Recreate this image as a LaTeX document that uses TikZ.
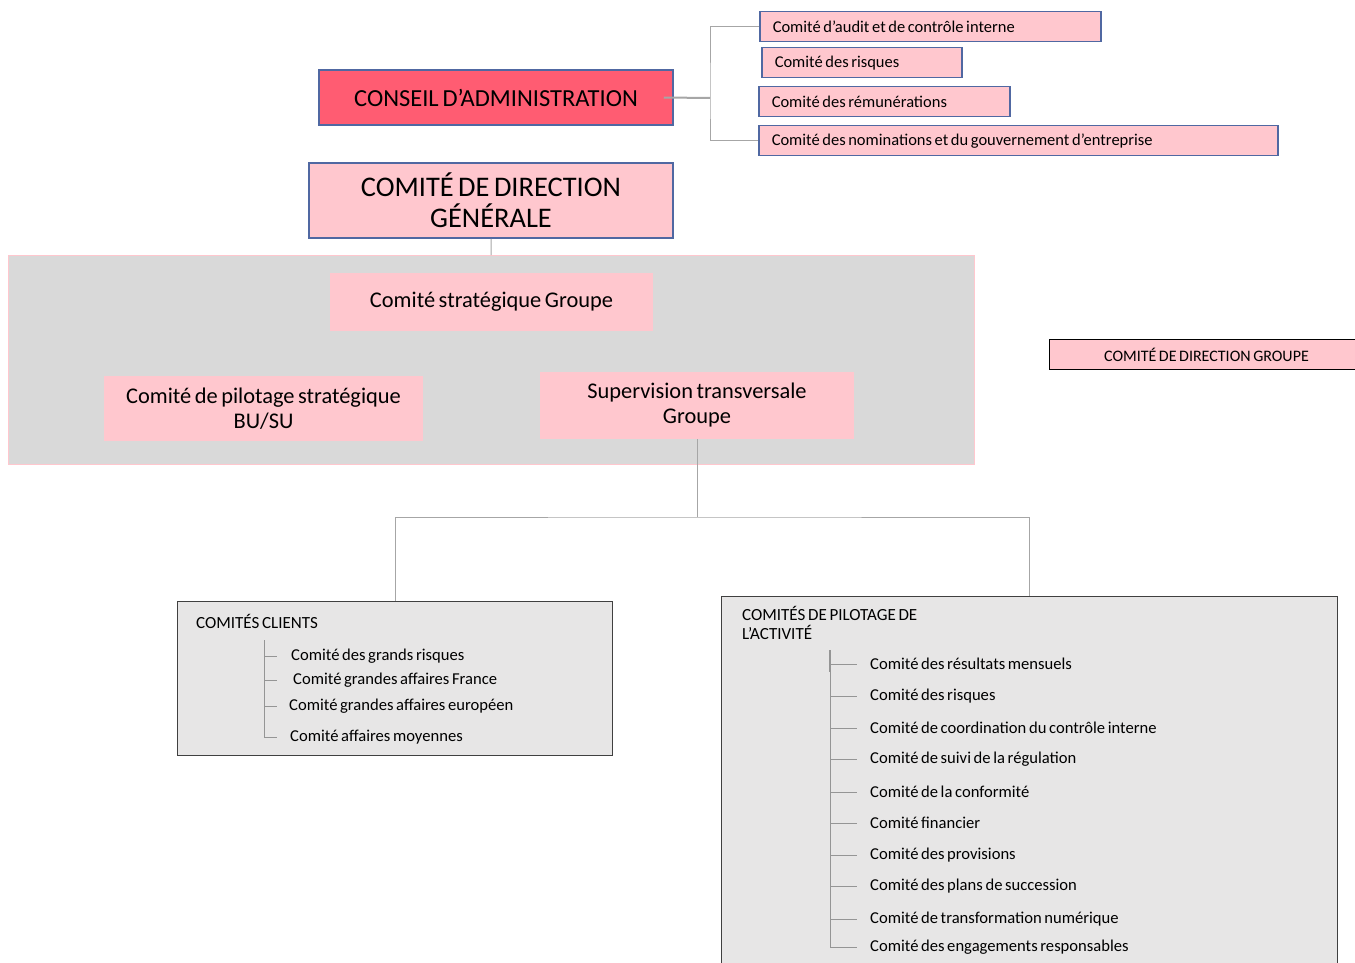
\documentclass[tikz,border=0pt]{standalone}
\usepackage{fontspec}
\setmainfont{Carlito}[WordSpace={0.7,0,0}]
\usetikzlibrary{positioning}
\definecolor{redbox}{RGB}{255,92,114}
\definecolor{pinkbox}{RGB}{255,199,206}
\definecolor{bluedge}{RGB}{80,104,162}
\definecolor{panelgray}{RGB}{217,217,217}
\definecolor{listgray}{RGB}{231,230,230}
\definecolor{linkgray}{RGB}{166,166,166}

\begin{document}
\begin{tikzpicture}[
  x=1pt, y=-1pt,
  box/.style={draw=bluedge, line width=1.5pt, fill=pinkbox, inner sep=0pt, align=center},
  board/.style={box, fill=redbox, minimum width=354pt, minimum height=55pt, font=\fontsize{24.5}{28}\selectfont},
  direction/.style={box, minimum width=364pt, minimum height=75pt, font=\fontsize{28.4}{31}\selectfont},
  sub/.style={box, anchor=north west, align=flush left, inner xsep=13pt, text width=#1, minimum height=30pt, font=\fontsize{16.5}{18}\selectfont},
  panel/.style={fill=panelgray, draw=pinkbox, anchor=north west, minimum width=966pt, minimum height=209pt, inner sep=0pt},
  inner/.style={fill=pinkbox, inner sep=0pt, align=center, font=\fontsize{22.4}{25}\selectfont},
  listbox/.style={fill=listgray, draw=black!75, line width=1pt, anchor=north west, inner sep=0pt},
  title/.style={anchor=north west, inner sep=0pt, align=left, font=\fontsize{17}{19}\selectfont},
  item/.style={anchor=west, inner sep=0pt, font=\fontsize{16.6}{18}\selectfont},
  link/.style={draw=linkgray, line width=1pt},
  trunk/.style={draw=linkgray!90!black, line width=1pt}
]
\useasboundingbox (0,0) rectangle (1355,963);

% conseil et comites specialises
\node[board] (ca) at (496,97.5) {CONSEIL D'ADMINISTRATION};
\node[sub=315pt] (audit) at (759,11) {Comité d'audit et de contrôle interne};
\node[sub=174pt] (risques) at (761,47) {Comité des risques};
\node[sub=225pt] (remun) at (758,86) {Comité des rémunérations};
\node[sub=493pt] (nomin) at (758,125) {Comité des nominations et du gouvernement d'entreprise};
\coordinate (fork) at (710,98);

\draw[link, line width=2pt] ([xshift=-10pt]ca.east) -- (fork);
\draw[link] (audit.west) -| (fork) |- (nomin.west);

% direction generale
\node[direction] (cdg) at (491,200.5) {COMITÉ DE DIRECTION\\GÉNÉRALE};
\node[panel] (panel) at (8,255) {};
\node[inner, minimum width=323pt, minimum height=58pt] (strat) at (491.5,302) {Comité stratégique Groupe};
\node[inner, minimum width=319pt, minimum height=65pt] (pilot) at (263.5,408.5) {Comité de pilotage stratégique\\BU/SU};
\node[inner, minimum width=314pt, minimum height=67pt] (superv) at (697,405.5) {Supervision transversale\\Groupe};
\node[box, draw=black, line width=1pt, anchor=north west, minimum width=314pt, minimum height=30pt, font=\fontsize{16}{18}\selectfont] (cdgroupe) at (1049,339) {COMITÉ DE DIRECTION GROUPE};

\draw[link] (cdg) -- (panel);

% comites clients
\node[listbox, minimum width=435pt, minimum height=154pt] (clients) at (177,601) {};
\node[title] (clientstitle) at (196,614) {COMITÉS CLIENTS};
\node[item] (cl1) at (291,656) {Comité des grands risques};
\node[item] (cl2) at (293,680) {Comité grandes affaires France};
\node[item] (cl3) at (289,706) {Comité grandes affaires européen};
\node[item] (cl4) at (290,737) {Comité affaires moyennes};
\coordinate (cltrunk) at (264,640);

\draw[trunk] (cltrunk) -- (cltrunk |- cl4.west);
\draw[trunk] (cltrunk |- cl1.west) -- ++(13,0);
\draw[trunk] (cltrunk |- cl2.west) -- ++(13,0);
\draw[trunk] (cltrunk |- cl3.west) -- ++(13,0);
\draw[trunk] (cltrunk |- cl4.west) -- ++(13,0);

% comites de pilotage de l'activite
\node[listbox, minimum width=616pt, minimum height=380pt] (pilotage) at (721,596) {};
\node[title] (pilotagetitle) at (742,606) {COMITÉS DE PILOTAGE DE\\L'ACTIVITÉ};
\node[item] (pa1) at (870,664) {Comité des résultats mensuels};
\node[item] (pa2) at (870,696) {Comité des risques};
\node[item] (pa3) at (870,728) {Comité de coordination du contrôle interne};
\node[item] (pa4) at (870,759) {Comité de suivi de la régulation};
\node[item] (pa5) at (870,792) {Comité de la conformité};
\node[item] (pa6) at (870,823) {Comité financier};
\node[item] (pa7) at (870,855) {Comité des provisions};
\node[item] (pa8) at (870,886) {Comité des plans de succession};
\node[item] (pa9) at (870,919) {Comité de transformation numérique};
\node[item] (pa10) at (870,947) {Comité des engagements responsables};
\coordinate (patrunk) at (830,650);

\draw[trunk] (patrunk) -- (patrunk |- pa10.west);
\draw[trunk, line width=2pt] (patrunk) -- ++(0,22);
\draw[trunk] (patrunk |- pa1.west) -- ++(27,0);
\draw[trunk] (patrunk |- pa2.west) -- ++(27,0);
\draw[trunk] (patrunk |- pa3.west) -- ++(27,0);
\draw[trunk] (patrunk |- pa4.west) -- ++(27,0);
\draw[trunk] (patrunk |- pa5.west) -- ++(27,0);
\draw[trunk] (patrunk |- pa6.west) -- ++(27,0);
\draw[trunk] (patrunk |- pa7.west) -- ++(27,0);
\draw[trunk] (patrunk |- pa8.west) -- ++(27,0);
\draw[trunk] (patrunk |- pa9.west) -- ++(27,0);
\draw[trunk] (patrunk |- pa10.west) -- ++(27,0);

% supervision vers les comites
\coordinate (split) at (697,517);
\draw[link] (superv.south) -- (split);
\draw[link] (clients.north) |- (split) -| (pilotage.north);
\end{tikzpicture}
\end{document}
